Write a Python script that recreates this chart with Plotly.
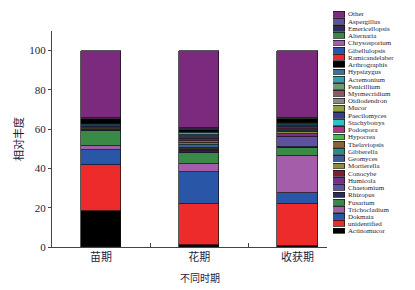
import plotly.graph_objects as go

periods = ["苗期", "花期", "收获期"]

# stack order: bottom -> top
genera = ["Actinomucor", "unidentified", "Dokmaia", "Trichocladium", "Fusarium",
          "Rhizopus", "Chaetomium", "Humicola", "Conocybe", "Mortierella",
          "Geomyces", "Gibberella", "Thelaviopsis", "Hypocrea", "Podospora",
          "Stachybotrys", "Paecilomyces", "Mucor", "Oidiodendron", "Myrmecridium",
          "Penicillium", "Acremonium", "Hypsizygus", "Arthrographis", "Ramicandelaber",
          "Gibellulopsis", "Chrysosporium", "Alternaria", "Emericellopsis", "Aspergillus",
          "Other"]

colors = ["#000000", "#EE2B2B", "#2A56A8", "#A45DA8", "#398A47",
          "#2B2B5C", "#5E51A1", "#7B2C8A", "#7A1F2B", "#8C8B3E",
          "#3B5B9A", "#2C8C8C", "#8A6233", "#4DB84F", "#B23383",
          "#2FC1C9", "#3B3F8F", "#8FA242", "#8A8A8A", "#8A5B60",
          "#6B9B72", "#2BA4B6", "#3F6F9B", "#000000", "#EE2B2B",
          "#2A56A8", "#A45DA8", "#398A47", "#2B2B5C", "#5E51A1",
          "#7B2A7E"]

seedling = [18.3, 23.7, 7.6, 2.0, 7.4,
            0.5, 0.3, 0.2, 0.2, 0.2,
            0.2, 0.3, 0.1, 0.1, 0.1,
            0.1, 0.2, 0.1, 0.1, 0.1,
            0.2, 0.4, 0.2, 2.6, 0.1,
            0.1, 0.1, 0.1, 0.1, 0.1,
            34.2]
flowering = [1.0, 21.0, 16.4, 3.9, 5.4,
             0.8, 0.5, 0.5, 0.5, 0.6,
             1.4, 1.0, 0.9, 0.3, 0.4,
             0.6, 0.5, 0.3, 0.3, 0.4,
             0.5, 0.8, 0.4, 1.4, 0.1,
             0.1, 0.1, 0.1, 0.1, 0.1,
             39.6]
harvest = [0.3, 21.4, 6.0, 18.7, 3.9,
           0.6, 5.2, 1.2, 0.4, 1.0,
           0.4, 0.7, 0.3, 0.2, 0.2,
           0.5, 0.4, 0.2, 0.2, 0.2,
           0.3, 0.5, 0.3, 2.0, 0.1,
           0.1, 0.1, 0.1, 0.1, 0.1,
           34.3]

y_ticks = [0, 20, 40, 60, 80, 100]
y_title = "相对丰度"
x_title = "不同时期"

txt = "#1E1E3C"
serif = "Liberation Serif, Times New Roman, serif"
cjk = "Noto Sans CJK SC"

fig = go.Figure()
for i, g in enumerate(genera):
    fig.add_trace(go.Bar(
        x=periods, y=[seedling[i], flowering[i], harvest[i]], name=g,
        marker=dict(color=colors[i], line=dict(color="#111111", width=0.7)),
        width=0.41, showlegend=False, xaxis="x", yaxis="y"))

# legend built as a small horizontal bar chart on its own axes
fig.add_trace(go.Bar(
    y=genera, x=[1] * len(genera), orientation="h",
    marker=dict(color=colors, line=dict(color="#111111", width=0.7)),
    width=0.8, showlegend=False, xaxis="x2", yaxis="y2", hoverinfo="y"))

OFF = 8                      # page body margin
W, H = 415 - OFF, 290 - OFF
PL, PT, PB = 52, 8, 247      # plot area in page pixels (left, top, bottom)
l, r = PL - OFF, 5
t, b = PT - OFF, H - (PB - OFF)
pw, ph = W - l - r, H - t - b


def px(xp):
    return (xp - PL) / pw


def py(yp):
    return (PB - yp) / ph


fig.update_layout(
    width=W, height=H, barmode="stack", bargap=0,
    margin=dict(l=l, r=r, t=t, b=b, autoexpand=False),
    paper_bgcolor="white", plot_bgcolor="white",
    font=dict(family=serif, color=txt, size=11),
    xaxis=dict(domain=[0, px(327)], range=[-0.5, 2.3], type="category",
               categoryorder="array", categoryarray=periods,
               showline=True, linecolor="#444", linewidth=1,
               ticks="inside", tickson="boundaries", ticklen=4, tickcolor="#444",
               tickfont=dict(family=cjk, size=11, color=txt), showgrid=False,
               zeroline=False, automargin=False),
    yaxis=dict(domain=[0, py(31)], range=[0, 110], tickvals=y_ticks,
               showline=True, linecolor="#444", linewidth=1,
               ticks="outside", ticklen=3, tickcolor="#444",
               tickfont=dict(family=serif, size=11, color=txt),
               showgrid=False, zeroline=False, automargin=False),
    xaxis2=dict(domain=[px(333), px(345)], range=[0, 1],
                visible=False, anchor="y2"),
    yaxis2=dict(domain=[py(234.6), py(10.4)], anchor="x2",
                type="category", categoryorder="array", categoryarray=genera,
                tickmode="array", tickvals=genera, ticktext=genera,
                side="right", showline=False, showgrid=False, zeroline=False,
                ticks="", ticklabelstandoff=2, automargin=False,
                tickfont=dict(family=serif, size=7, color=txt)),
    annotations=[
        dict(text=y_title, xref="paper", yref="paper", x=px(18), y=py(139),
             textangle=-90, showarrow=False, font=dict(family=cjk, size=11, color=txt),
             xanchor="center", yanchor="middle"),
        dict(text=x_title, xref="paper", yref="paper", x=px(200), y=py(277),
             showarrow=False, font=dict(family=cjk, size=10, color=txt),
             xanchor="center", yanchor="middle"),
    ],
)

fig.write_html("out.html")
